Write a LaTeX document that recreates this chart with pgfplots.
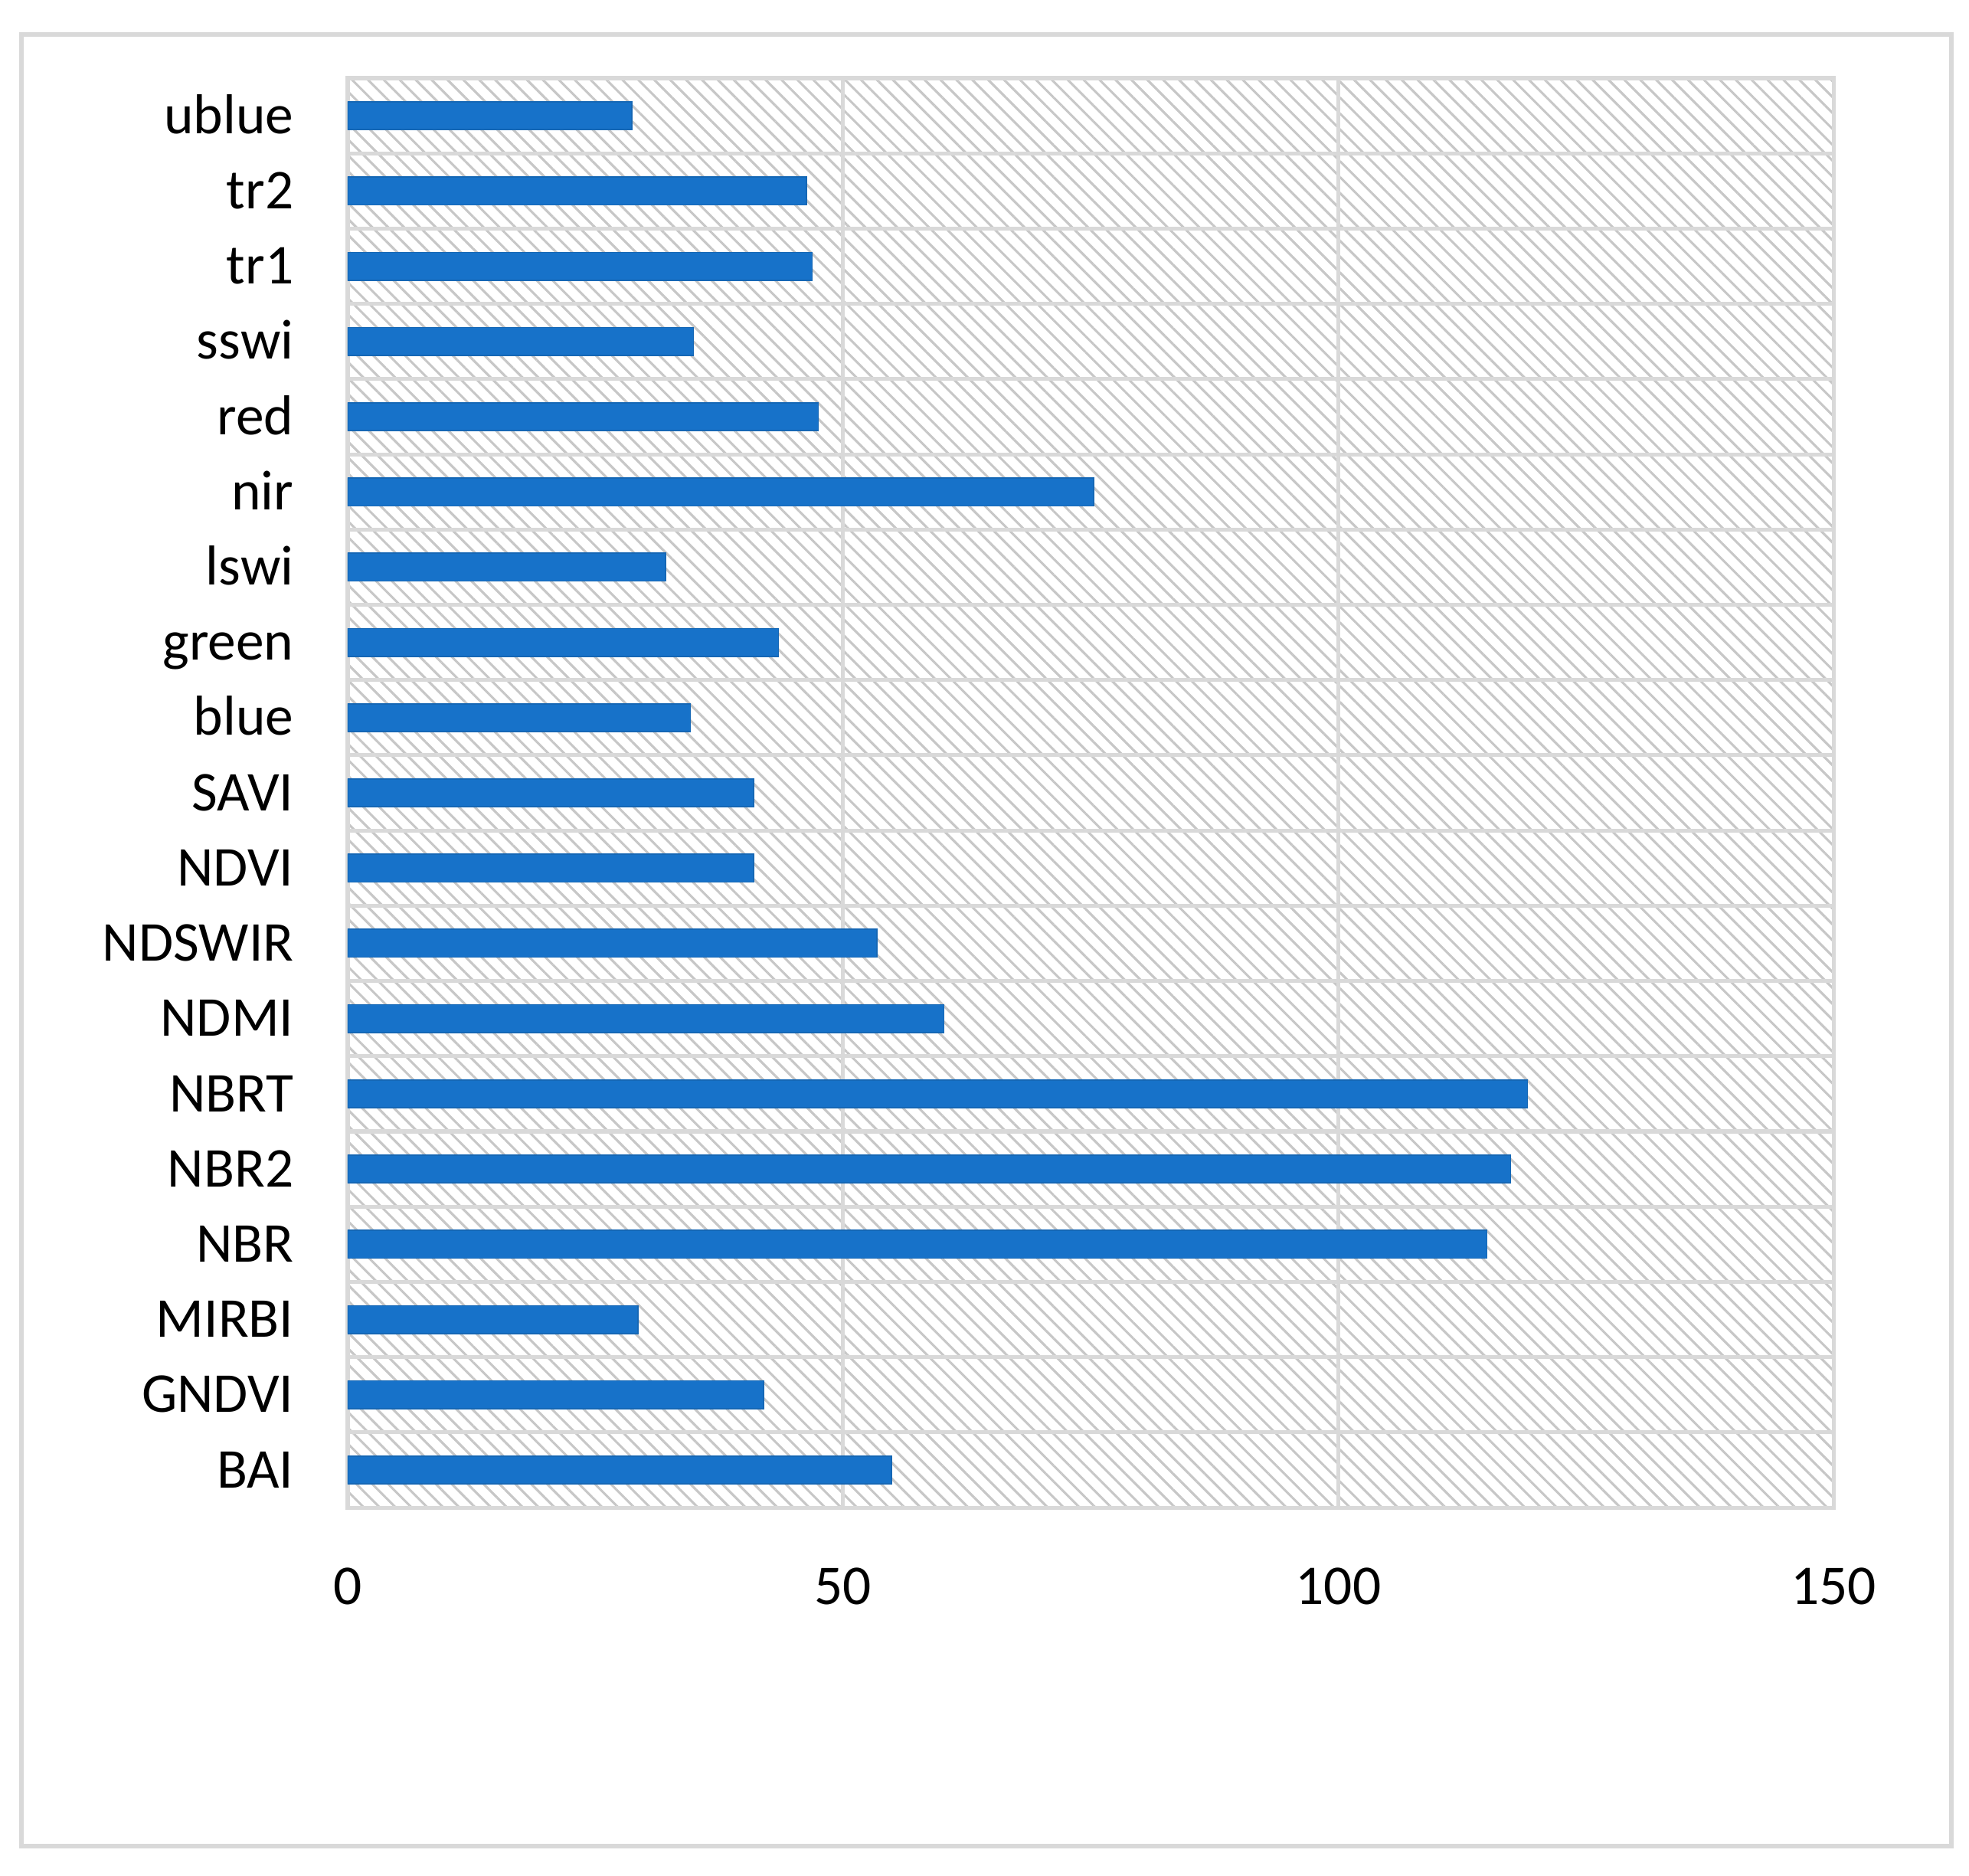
\documentclass[border=0pt]{standalone}
\usepackage{fontspec}
\setmainfont{Carlito}
\usepackage{pgfplots}
\pgfplotsset{compat=1.18}
\usetikzlibrary{patterns.meta}

\definecolor{barblue}{HTML}{1772C9}
\definecolor{gridgray}{HTML}{D9D9D9}

\begin{document}
\begin{tikzpicture}
\fontsize{13}{15}\selectfont
% page size and outer frame (axis south west corner at origin)
\path[use as bounding box] (-2.825,-2.987) rectangle (13.174,12.247);
\draw[gridgray, line width=1.1pt] (-2.651,-2.751) rectangle (13.031,11.967);
\begin{axis}[
    at={(0,0)}, anchor=south west,
    scale only axis,
    width=12.073cm, height=11.612cm,
    xbar, bar width=0.37, bar shift=0pt,
    xmin=0, xmax=150,
    ymin=-0.5, ymax=18.5,
    xtick={0,50,100,150},
    ytick={0,...,18},
    minor ytick={0.5,1.5,...,17.5},
    yticklabels={BAI,GNDVI,MIRBI,NBR,NBR2,NBRT,NDMI,NDSWIR,NDVI,SAVI,blue,green,lswi,nir,red,sswi,tr1,tr2,ublue},
    /pgf/number format/assume math mode=true,
    tick label style={font=\fontsize{13}{15}\selectfont},
    xticklabel style={yshift=-0.33cm},
    yticklabel style={xshift=-0.28cm, anchor=east, text height=0.63em, text depth=0pt},
    major tick length=0pt, minor tick length=0pt,
    xmajorgrids, yminorgrids,
    grid style={gridgray, line width=0.9pt},
    minor grid style={gridgray, line width=0.9pt},
    axis line style={gridgray, line width=0.9pt},
    axis background/.style={pattern={Lines[angle=-45,distance=2.6pt,line width=0.55pt]}, pattern color=black!22},
]
\addplot[fill=barblue, draw=barblue!90!black, line width=0.3pt] coordinates {
(54.9,0) (42.0,1) (29.3,2) (115.0,3) (117.4,4) (119.1,5) (60.2,6) (53.4,7) (41.0,8) (41.0,9)
(34.6,10) (43.5,11) (32.1,12) (75.3,13) (47.5,14) (34.9,15) (46.9,16) (46.3,17) (28.7,18)};
\end{axis}
\end{tikzpicture}
\end{document}
